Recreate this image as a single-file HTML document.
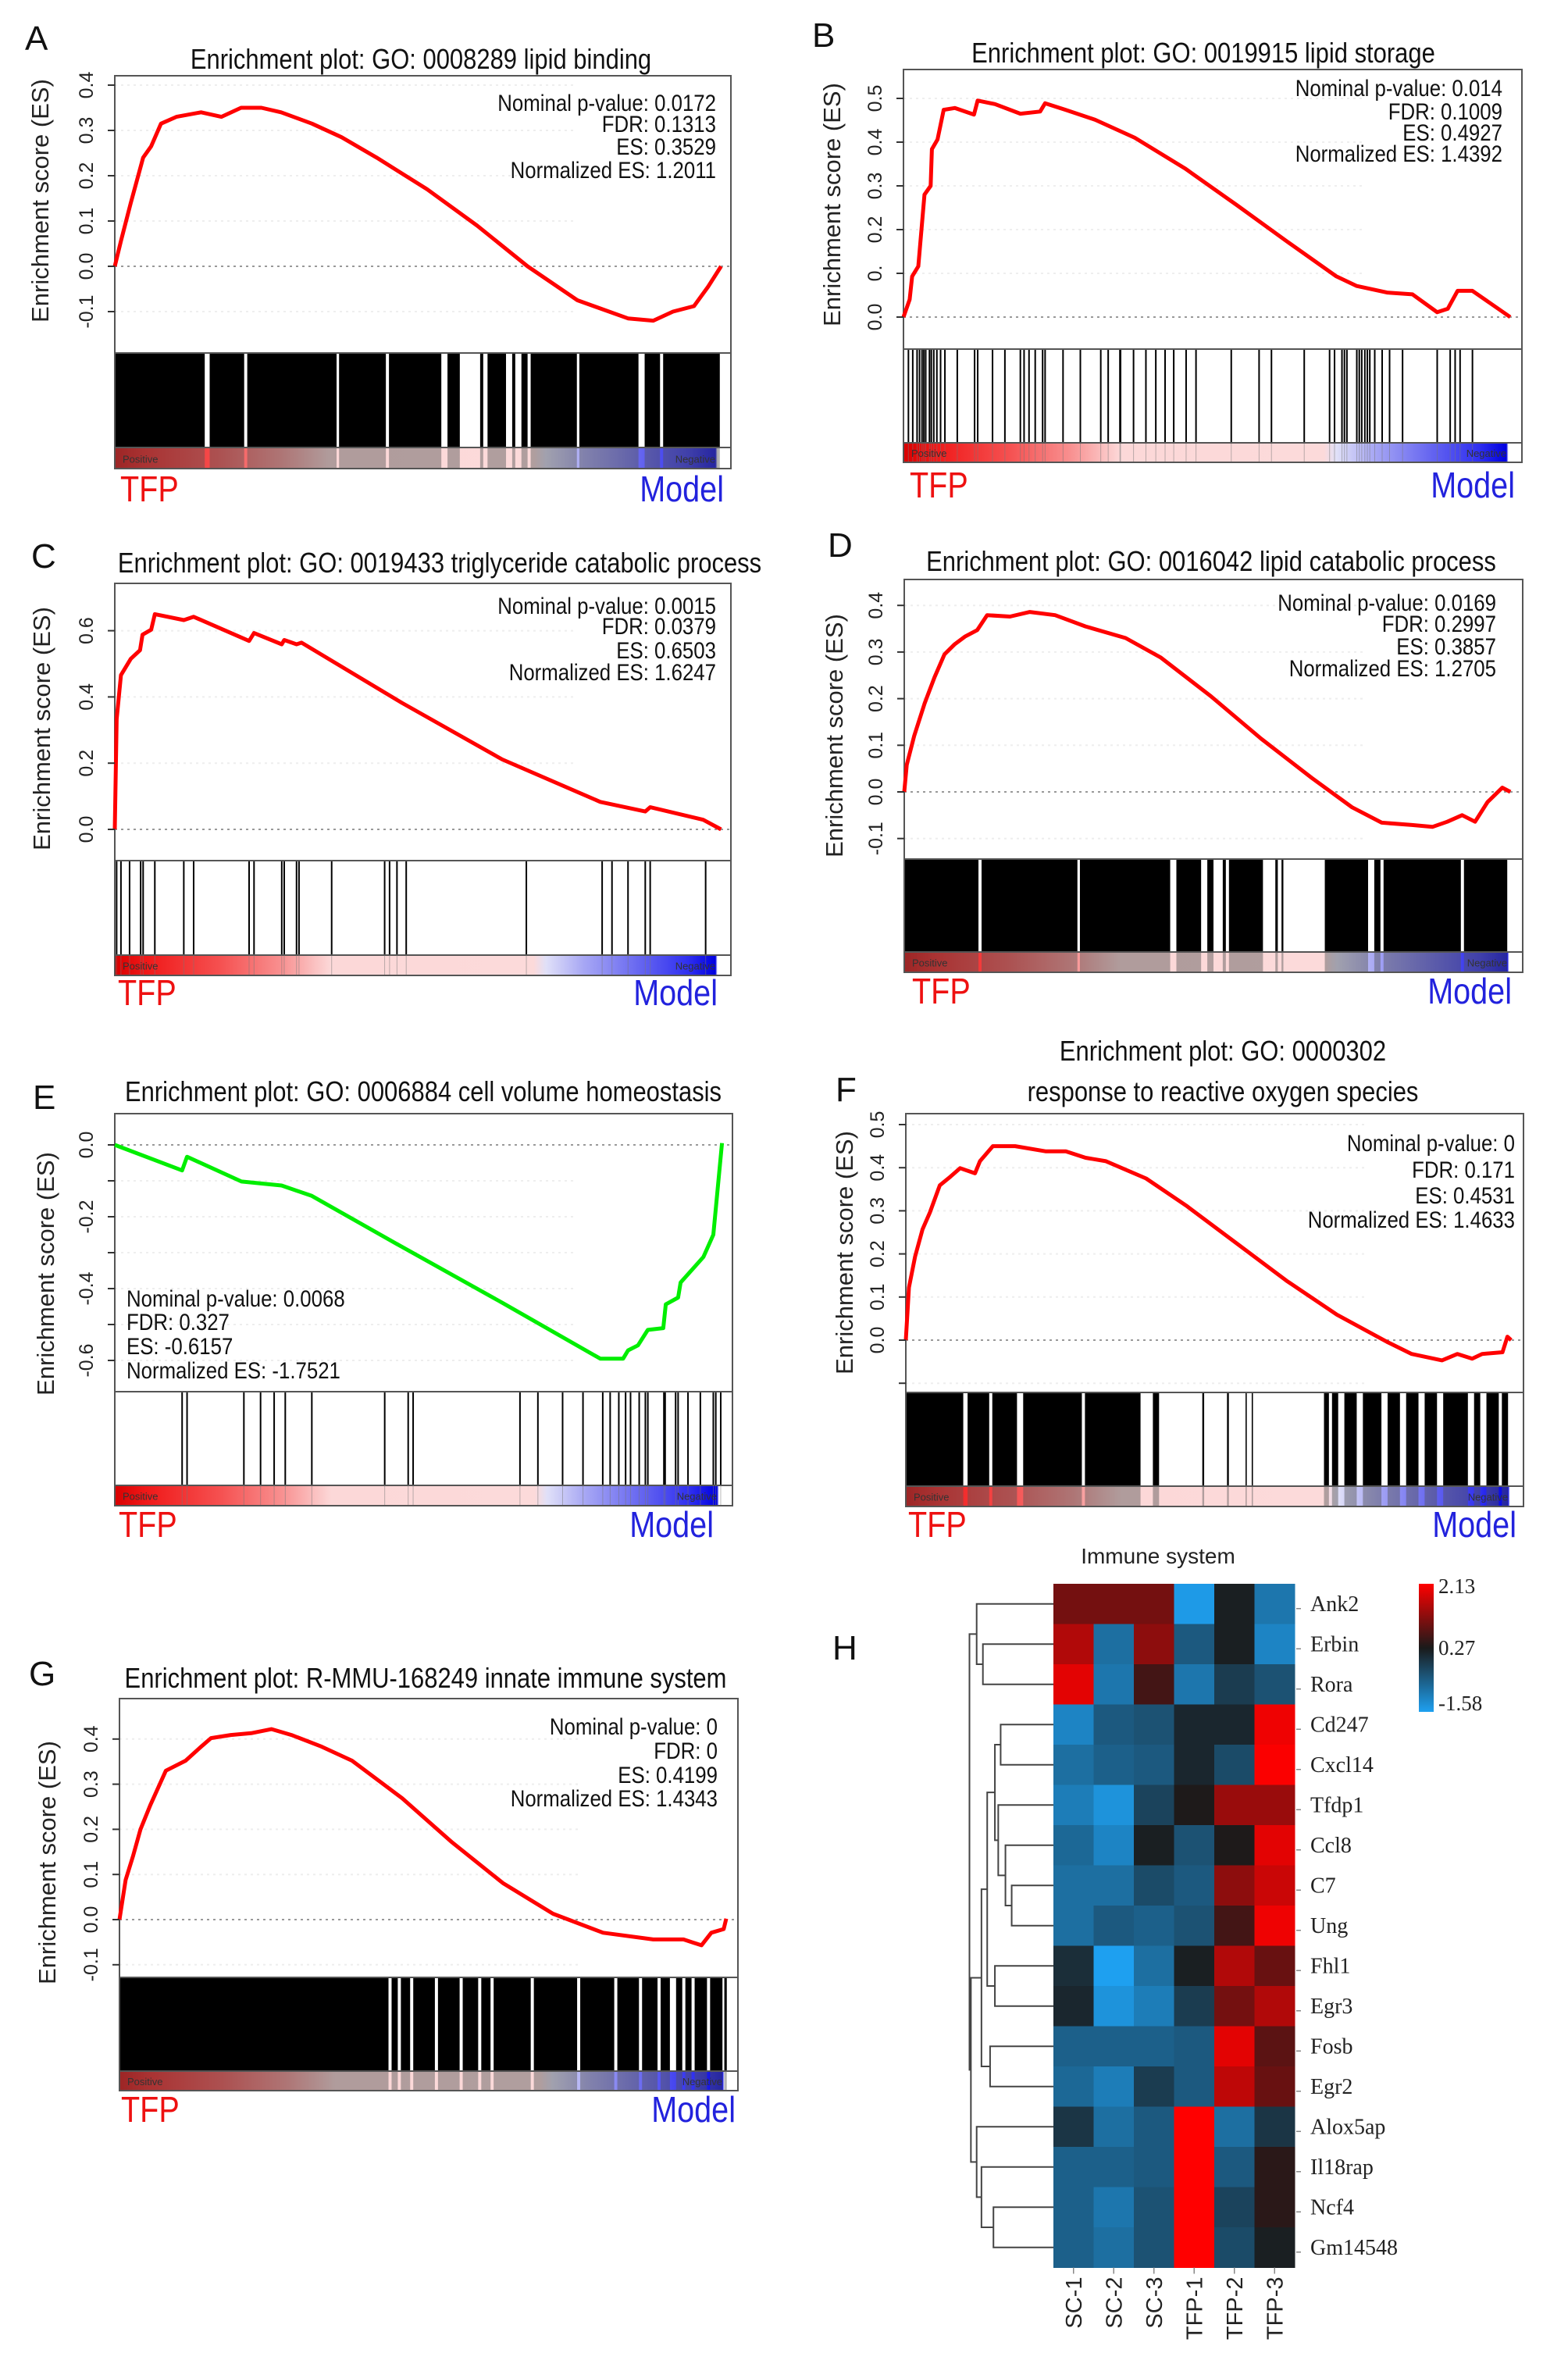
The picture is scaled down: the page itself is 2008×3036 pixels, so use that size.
<!DOCTYPE html>
<html><head><meta charset="utf-8"><style>
html,body{margin:0;padding:0;background:#fff;}
svg{display:block;font-family:"Liberation Sans",Arial,sans-serif;}
</style></head><body>
<svg id="fig" width="2008" height="3036" viewBox="0 0 2008 3036" xmlns="http://www.w3.org/2000/svg">
<defs>
<linearGradient id="bandGrad" x1="0" x2="1" y1="0" y2="0">
<stop offset="0" stop-color="#d80000"/><stop offset="0.05" stop-color="#f01818"/>
<stop offset="0.17" stop-color="#f55050"/><stop offset="0.27" stop-color="#f89090"/>
<stop offset="0.35" stop-color="#fcd8d8"/><stop offset="0.68" stop-color="#fcdada"/>
<stop offset="0.70" stop-color="#e0e0f8"/><stop offset="0.76" stop-color="#a8a8f4"/>
<stop offset="0.86" stop-color="#6060f0"/><stop offset="0.93" stop-color="#3030f0"/>
<stop offset="0.975" stop-color="#0000e0"/><stop offset="0.978" stop-color="#ffffff"/>
<stop offset="1" stop-color="#ffffff"/>
</linearGradient>
<linearGradient id="cbarGrad" x1="0" x2="0" y1="0" y2="1">
<stop offset="0" stop-color="#ff0000"/><stop offset="0.5" stop-color="#1a1a1a"/><stop offset="1" stop-color="#1ea0f0"/>
</linearGradient>
</defs>
</svg>
<script>
// ---------- ES curve data (rank % , ES value) ----------
const esA_rank=[0,1,2.6,4.6,5.9,7.5,10,14,17.3,20.5,23.8,27,32,36.8,42.5,50.7,58.8,67,75.1,83.3,87.4,90.6,94,96.3,98.4];
const esA_val=[0,0.056,0.14,0.24,0.265,0.315,0.33,0.34,0.33,0.35,0.35,0.34,0.315,0.285,0.24,0.17,0.09,0,-0.075,-0.115,-0.12,-0.1,-0.088,-0.045,0];
const esB_rank=[0,1,1.4,2.4,3.4,4.4,4.6,5.5,6.5,8.3,11.4,12,14.8,18.9,22.1,22.9,26.2,31,37.4,45.5,53.8,61.8,70,73.3,78.2,82.3,86.3,88,89.6,92,98.1];
const esB_val=[0,0.04,0.093,0.116,0.28,0.3,0.384,0.406,0.474,0.478,0.463,0.495,0.487,0.465,0.47,0.489,0.474,0.451,0.41,0.34,0.257,0.175,0.093,0.071,0.056,0.052,0.011,0.019,0.06,0.06,0];
const esC_rank=[0,0.3,1,2.6,4.1,4.5,5.9,6.5,11.2,12.8,21.8,22.6,27.1,27.5,29.5,30.3,46.6,62.9,78.8,86.1,86.9,95.5,98.4];
const esC_val=[0,0.333,0.466,0.515,0.541,0.588,0.603,0.65,0.632,0.642,0.569,0.593,0.559,0.572,0.559,0.564,0.382,0.211,0.083,0.054,0.067,0.029,0];
const esD_rank=[0,0.4,1.6,3.3,4.9,6.5,8.1,9.8,11.8,13.4,17.1,20.3,24.4,29.3,35.8,41.5,49.6,57.7,65.9,72.4,77.2,82.1,85.4,87.8,90.2,92.3,94.3,96.7,98];
const esD_val=[0,0.058,0.12,0.19,0.246,0.295,0.316,0.333,0.347,0.379,0.376,0.386,0.379,0.355,0.33,0.288,0.205,0.114,0.03,-0.033,-0.066,-0.071,-0.075,-0.064,-0.05,-0.064,-0.022,0.009,0];
const esE_rank=[0,10.9,11.7,20.5,27,31.9,46.5,62.8,78.6,82.3,83.1,84.7,86.3,88.8,89.2,91.2,91.6,95.3,96.9,98.3];
const esE_val=[0,-0.071,-0.033,-0.102,-0.113,-0.142,-0.284,-0.44,-0.595,-0.595,-0.572,-0.558,-0.515,-0.51,-0.444,-0.425,-0.383,-0.312,-0.25,0.005];
const esF_rank=[0,0.5,1.5,2.7,3.9,5.5,7.2,8.8,11.2,12,14.1,17.7,22.6,25.9,29.1,32.4,38.9,45.4,53.5,61.6,69.8,77.9,81.9,86.8,89.3,91.7,93.3,96.6,97.4,98.0];
const esF_val=[0,0.122,0.194,0.257,0.296,0.359,0.379,0.399,0.387,0.415,0.45,0.45,0.438,0.438,0.423,0.415,0.375,0.312,0.225,0.138,0.059,-0.004,-0.032,-0.047,-0.032,-0.043,-0.032,-0.028,0.008,0];
const esG_rank=[0,1,2.2,3.4,5.0,7.5,10.7,13.2,14.8,18,21.3,24.6,27.8,32.7,37.6,45.7,53.8,62,70.1,78.2,86.3,91.2,94.1,95.7,97.7,98.1];
const esG_val=[0,0.088,0.141,0.2,0.254,0.33,0.352,0.383,0.402,0.409,0.413,0.422,0.409,0.383,0.352,0.269,0.171,0.081,0.013,-0.029,-0.044,-0.044,-0.057,-0.029,-0.021,0.002];
// ---------- hit positions (rank %) ----------
const hitsB=[0.8,1.5,2.2,2.6,3.0,3.3,3.6,4.2,4.5,4.9,5.4,6.0,6.7,8.7,11.5,12.0,14.4,16.4,18.9,19.5,20.3,21.3,22.5,22.9,25.8,28.6,31.9,33.1,35.0,35.1,37.2,39.2,40.8,42.3,43.7,45.7,47.3,53.0,57.5,59.5,64.8,68.9,69.7,70.9,71.3,71.7,73.3,73.7,74.1,74.6,75.0,75.4,76.2,77.4,78.6,80.7,86.3,88.4,89.2,90.0,92.0];
const hitsC=[0.3,1.0,2.4,4.2,4.6,6.5,11.2,12.8,21.8,22.6,27.1,27.5,29.5,29.9,35.2,43.8,44.6,45.8,47.3,66.8,79.1,80.7,83.3,86.1,86.9,95.9];
const hitsE=[10.9,11.7,20.9,23.6,25.8,27.6,31.9,43.7,47.5,48.3,65.6,68.5,72.5,75.8,79.0,80.2,81.6,82.7,83.5,84.9,85.9,86.3,88.9,89.1,90.8,91.2,92.8,94.8,96.9,97.3,98.1];
// dense hit regions [start,end] in rank %
const runsA=[[0,14.6],[15.4,21],[21.5,36],[36.4,44],[44.5,53],[54,56],[59.3,59.8],[60.5,63.5],[64.5,65],[66,67],[67.5,75],[75.4,85],[86,88.5],[89,98.2]];
const runsD=[[0,12],[12.5,28],[28.4,43],[44,48],[49,50],[51.5,52],[52.5,58],[60,60.4],[61,61.3],[68,75],[76,77],[77.5,90],[90.5,97.5]];
const runsF=[[0,9.3],[10,13.5],[14,18],[19,28.5],[29,38],[40,41],[48,48.3],[52,52.3],[55,55.2],[56,56.2],[67.7,68.5],[69,70],[71,73],[74,77],[78,80],[81,83],[84,86],[87,91],[92,93],[94,96],[96.5,97.5]];
const runsG=[[0,43.5],[44,45],[45.5,47],[47.5,51],[51.5,55],[55.5,58],[58.5,60],[60.5,66.5],[67,74],[74.5,80],[80.5,84],[84.5,87],[87.5,89],[90,91],[91.5,92.5],[93,95],[95.5,97.5],[97.8,98.2]];
// ---------- y tick values & labels ----------
const ticksA=[-0.1,0,0.1,0.2,0.3,0.4]; const tickLabA=["-0.1","0.0","0.1","0.2","0.3","0.4"];
const ticksB=[0,0.1,0.2,0.3,0.4,0.5]; const tickLabB=["0.0","0.","0.2","0.3","0.4","0.5"];
const ticksC=[0,0.2,0.4,0.6]; const tickLabC=["0.0","0.2","0.4","0.6"];
const ticksD=[-0.1,0,0.1,0.2,0.3,0.4]; const tickLabD=["-0.1","0.0","0.1","0.2","0.3","0.4"];
const ticksE=[0,-0.1,-0.2,-0.3,-0.4,-0.5,-0.6]; const tickLabE=["0.0","","-0.2","","-0.4","","-0.6"];
const ticksF=[-0.1,0,0.1,0.2,0.3,0.4,0.5]; const tickLabF=["","0.0","0.1","0.2","0.3","0.4","0.5"];
const ticksG=[-0.1,0,0.1,0.2,0.3,0.4]; const tickLabG=["-0.1","0.0","0.1","0.2","0.3","0.4"];
// ---------- heatmap data ----------
const genes=["Ank2","Erbin","Rora","Cd247","Cxcl14","Tfdp1","Ccl8","C7","Ung","Fhl1","Egr3","Fosb","Egr2","Alox5ap","Il18rap","Ncf4","Gm14548"];
const samples=["SC-1","SC-2","SC-3","TFP-1","TFP-2","TFP-3"];
const heat=[
[1.0,1.0,1.0,-1.5,0.2,-1.0],
[1.5,-0.9,1.2,-0.6,0.2,-1.2],
[1.9,-1.0,0.6,-1.0,-0.2,-0.5],
[-1.2,-0.6,-0.5,0.1,0.1,2.0],
[-0.9,-0.7,-0.6,0.1,-0.4,2.1],
[-1.1,-1.4,-0.3,0.3,1.3,1.3],
[-0.8,-1.2,0.2,-0.5,0.3,1.9],
[-0.9,-0.9,-0.4,-0.6,1.2,1.7],
[-0.9,-0.6,-0.7,-0.5,0.6,2.0],
[0.0,-1.58,-0.9,0.2,1.5,0.9],
[0.1,-1.4,-1.1,-0.2,1.0,1.5],
[-0.7,-0.7,-0.7,-0.6,1.9,0.8],
[-0.8,-1.1,-0.2,-0.6,1.6,0.9],
[-0.1,-0.9,-0.6,2.13,-0.9,-0.1],
[-0.7,-0.7,-0.6,2.13,-0.6,0.4],
[-0.7,-1.0,-0.5,2.13,-0.3,0.4],
[-0.7,-0.9,-0.5,2.13,-0.4,0.2]];
const cbarTicks=[2.13,0.27,-1.58];
// dendrogram merges: [childA, childB, height]; leaves 0..16, new nodes 17..
const merges=[[1,2,147],[0,17,160],[3,4,110],[7,8,87],[6,20,100],[5,21,115],[19,22,122],[9,10,122],[23,24,138],[11,12,132],[25,26,150],[15,16,125],[14,28,150],[13,29,160],[27,30,172],[18,31,175]];

const NS="http://www.w3.org/2000/svg";
const svg=document.getElementById('fig');
function el(tag,attrs,parent){const e=document.createElementNS(NS,tag);for(const k in attrs)e.setAttribute(k,attrs[k]);(parent||svg).appendChild(e);return e;}
function txt(str,attrs,parent){const e=el('text',attrs,parent);e.textContent=str;return e;}

const panels=[
{id:'a',letter:'A',L:147,R:936,T:97,PB:452,BT:573,BB:600,y0:341,ppu:580,rank:esA_rank,val:esA_val,runs:runsA,ticks:ticksA,tl:tickLabA,color:'#ff0000',
 title:['Enrichment plot: GO: 0008289 lipid binding'],tcx:539,tby:[88],lx:32,lby:64,
 stats:['Nominal p-value: 0.0172','FDR: 0.1313','ES: 0.3529','Normalized ES: 1.2011'],sx:917,sby:[142,169,198,228],anchor:'end',ylcx:51,ylcy:257,tfpx:154,tfpb:642,modr:927},
{id:'b',letter:'B',L:1157,R:1949,T:89,PB:447,BT:567,BB:592,y0:406,ppu:560,rank:esB_rank,val:esB_val,hits:hitsB,ticks:ticksB,tl:tickLabB,color:'#ff0000',
 title:['Enrichment plot: GO: 0019915 lipid storage'],tcx:1541,tby:[80],lx:1040,lby:60,
 stats:['Nominal p-value: 0.014','FDR: 0.1009','ES: 0.4927','Normalized ES: 1.4392'],sx:1924,sby:[123,153,180,207],anchor:'end',ylcx:1065,ylcy:262,tfpx:1165,tfpb:637,modr:1940},
{id:'c',letter:'C',L:147,R:936,T:747,PB:1102,BT:1223,BB:1249,y0:1062,ppu:424,rank:esC_rank,val:esC_val,hits:hitsC,ticks:ticksC,tl:tickLabC,color:'#ff0000',
 title:['Enrichment plot: GO: 0019433 triglyceride catabolic process'],tcx:563,tby:[733],lx:40,lby:727,
 stats:['Nominal p-value: 0.0015','FDR: 0.0379','ES: 0.6503','Normalized ES: 1.6247'],sx:917,sby:[786,812,843,871],anchor:'end',ylcx:53,ylcy:933,tfpx:151,tfpb:1287,modr:919},
{id:'d',letter:'D',L:1158,R:1950,T:742,PB:1100,BT:1219,BB:1245,y0:1014,ppu:597,rank:esD_rank,val:esD_val,runs:runsD,ticks:ticksD,tl:tickLabD,color:'#ff0000',
 title:['Enrichment plot: GO: 0016042 lipid catabolic process'],tcx:1551,tby:[731],lx:1060,lby:713,
 stats:['Nominal p-value: 0.0169','FDR: 0.2997','ES: 0.3857','Normalized ES: 1.2705'],sx:1916,sby:[782,809,838,866],anchor:'end',ylcx:1068,ylcy:942,tfpx:1168,tfpb:1285,modr:1936},
{id:'e',letter:'E',L:147,R:938,T:1426,PB:1782,BT:1902,BB:1928,y0:1466,ppu:460,rank:esE_rank,val:esE_val,hits:hitsE,ticks:ticksE,tl:tickLabE,color:'#00ee00',
 title:['Enrichment plot: GO: 0006884 cell volume homeostasis'],tcx:542,tby:[1410],lx:42,lby:1420,
 stats:['Nominal p-value: 0.0068','FDR: 0.327','ES: -0.6157','Normalized ES: -1.7521'],sx:162,sby:[1673,1703,1734,1765],anchor:'start',ylcx:58,ylcy:1631,tfpx:152,tfpb:1968,modr:914},
{id:'f',letter:'F',L:1160,R:1951,T:1426,PB:1783,BT:1903,BB:1929,y0:1716,ppu:552,rank:esF_rank,val:esF_val,runs:runsF,ticks:ticksF,tl:tickLabF,color:'#ff0000',
 title:['Enrichment plot: GO: 0000302','response to reactive oxygen species'],tcx:1566,tby:[1358,1410],lx:1070,lby:1410,
 stats:['Nominal p-value: 0','FDR: 0.171','ES: 0.4531','Normalized ES: 1.4633'],sx:1940,sby:[1474,1508,1541,1572],anchor:'end',ylcx:1081,ylcy:1604,tfpx:1163,tfpb:1968,modr:1942},
{id:'g',letter:'G',L:153,R:945,T:2175,PB:2532,BT:2652,BB:2677,y0:2458,ppu:578,rank:esG_rank,val:esG_val,runs:runsG,ticks:ticksG,tl:tickLabG,color:'#ff0000',
 title:['Enrichment plot: R-MMU-168249 innate immune system'],tcx:545,tby:[2161],lx:37,lby:2158,
 stats:['Nominal p-value: 0','FDR: 0','ES: 0.4199','Normalized ES: 1.4343'],sx:919,sby:[2221,2252,2283,2313],anchor:'end',ylcx:60,ylcy:2385,tfpx:155,tfpb:2717,modr:942}
];

const condTexts=[];
panels.forEach(p=>{
  const g=el('g',{});
  
  
  const xr=r=>p.L+r/100*(p.R-p.L);
  const yv=v=>p.y0-v*p.ppu;
  const pl=txt(p.letter,{x:p.lx,y:p.lby,'font-size':44,fill:'#111'},g);
  
  
  p.title.forEach((t,i)=>{const e=txt(t,{x:p.tcx,y:p.tby[i],'font-size':36,'text-anchor':'middle',fill:'#111'},g);
    
    condTexts.push(e);});
  p.ticks.forEach(v=>{ if(v!==0){const gl=el('line',{x1:p.L,x2:p.R-200,y1:yv(v),y2:yv(v),stroke:'#eee','stroke-width':2,'stroke-dasharray':'3 5'},g);
    
    }});
  const zl=el('line',{x1:p.L,x2:p.R,y1:yv(0),y2:yv(0),stroke:'#999','stroke-width':2,'stroke-dasharray':'3 5'},g);
  
  
  const hg=el('g',{},g);
  
  
  const band=el('rect',{x:p.L,y:p.BT,width:p.R-p.L,height:p.BB-p.BT,fill:'url(#bandGrad)'},g);
  
  
  if(p.runs){p.runs.forEach(rn=>{
      const r=el('rect',{x:xr(rn[0]),y:p.PB,width:xr(rn[1])-xr(rn[0]),height:p.BT-p.PB,fill:'#000'},hg);
      
      
      const r2=el('rect',{x:xr(rn[0]),y:p.BT,width:xr(rn[1])-xr(rn[0]),height:p.BB-p.BT,fill:'#555',opacity:0.45},g);
      
      });}
  if(p.hits){p.hits.forEach(h=>{
      const l=el('line',{x1:xr(h),x2:xr(h),y1:p.PB,y2:p.BT,stroke:'#000','stroke-width':2},hg);
      
      
      const l2=el('line',{x1:xr(h),x2:xr(h),y1:p.BT,y2:p.BB,stroke:'#777','stroke-width':1,opacity:0.5},g);
      
      });}
  const pos=txt('Positive',{x:p.L+10,y:p.BT+(p.BB-p.BT)*0.72,'font-size':13,fill:'#333'},g);
  
  
  const neg=txt('Negative',{x:p.R-20,y:p.BT+(p.BB-p.BT)*0.72,'font-size':13,fill:'#333','text-anchor':'end'},g);
  
  
  [[p.T,p.PB],[p.PB,p.BT],[p.BT,p.BB]].forEach(f=>{const fr=el('rect',{x:p.L,y:f[0],width:p.R-p.L,height:f[1]-f[0],fill:'none',stroke:'#555','stroke-width':2},g);
    
    });
  const d=p.rank.map((r,i)=>(i?'L':'M')+xr(r).toFixed(1)+','+yv(p.val[i]).toFixed(1)).join(' ');
  const c=el('path',{d:d,fill:'none',stroke:p.color,'stroke-width':5,'stroke-linejoin':'round'},g);
  
  
  p.ticks.forEach((v,i)=>{
    const tk=el('line',{x1:p.L-9,x2:p.L,y1:yv(v),y2:yv(v),stroke:'#333','stroke-width':2},g);
    
    
    if(p.tl[i]){const t=txt(p.tl[i],{x:0,y:0,'font-size':25,'text-anchor':'middle',fill:'#222',transform:`translate(${p.L-28},${yv(v)}) rotate(-90)`},g);
      
      }
  });
  const yl=txt('Enrichment score (ES)',{x:0,y:0,'font-size':31,'text-anchor':'middle',fill:'#222',transform:`translate(${p.ylcx+11},${p.ylcy}) rotate(-90)`},g);
  
  
  p.stats.forEach((s,i)=>{const t=txt(s,{x:p.sx,y:p.sby[i],'font-size':30,'text-anchor':p.anchor,fill:'#111'},g);
    
    condTexts.push(t);});
  const tf=txt('TFP',{x:p.tfpx,y:p.tfpb,'font-size':46,fill:'#ee1111'},g);
  
  condTexts.push(tf);
  const md=txt('Model',{x:p.modr,y:p.tfpb,'font-size':46,fill:'#2222dd','text-anchor':'end'},g);
  
  condTexts.push(md);
});

// ---------- Heatmap ----------
const HL=1349,HT=2028,CW=51.5,RH=51.5,vmin=-1.58,vmid=0.27,vmax=2.13;
function colorOf(v){
  const blk=[26,26,26],red=[255,0,0],blu=[30,160,240];
  let t,c;
  if(v>=vmid){t=Math.min(1,(v-vmid)/(vmax-vmid));c=red;}else{t=Math.min(1,(vmid-v)/(vmid-vmin));c=blu;}
  return 'rgb('+blk.map((b,i)=>Math.round(b+(c[i]-b)*t)).join(',')+')';
}
const hg=el('g',{});


const hLetter=txt('H',{x:1066,y:2125,'font-size':44,fill:'#111'},hg);


const ht=txt('Immune system',{x:1483,y:2002,'font-size':28,'text-anchor':'middle',fill:'#222'},hg);


heat.forEach((row,r)=>row.forEach((v,c)=>{
  const cell=el('rect',{x:HL+c*CW,y:HT+r*RH,width:CW+0.5,height:RH+0.5,fill:colorOf(v)},hg);
  
  
}));
genes.forEach((gname,r)=>{
  const y=HT+(r+0.5)*RH;
  const tk=el('line',{x1:HL+6*CW+2,x2:HL+6*CW+8,y1:y+6,y2:y+6,stroke:'#888','stroke-width':1.5},hg);
  
  
  const t=txt(gname,{x:1678,y:y+9,'font-size':28,fill:'#222','font-family':'"Liberation Serif",serif'},hg);
  
  
});
samples.forEach((s,c)=>{
  const x=HL+(c+0.5)*CW;
  const tk=el('line',{x1:x,x2:x,y1:HT+17*RH,y2:HT+17*RH+8,stroke:'#888','stroke-width':1.5},hg);
  
  
  const t=txt(s,{x:0,y:0,'font-size':29,'text-anchor':'end',fill:'#222',transform:`translate(${x+10},${HT+17*RH+12}) rotate(-90)`},hg);
  
  
});
const cb=el('rect',{x:1817,y:2028,width:19,height:164,fill:'url(#cbarGrad)'},hg);


cbarTicks.forEach(v=>{
  const y=2028+(vmax-v)/(vmax-vmin)*164;
  const t=txt(v.toFixed(2),{x:1842,y:Math.min(2190,Math.max(2040,y+9)),'font-size':27,fill:'#222','font-family':'"Liberation Serif",serif'},hg);
  
  
});
const nodeX={},nodeY={};
genes.forEach((g,i)=>{nodeX[i]=HL;nodeY[i]=HT+(i+0.5)*RH;});
const dg=el('g',{},hg);


merges.forEach((m,k)=>{
  const id=17+k, x=HL-m[2]/1.628;
  const a=m[0],b=m[1];
  const d=`M${nodeX[a]},${nodeY[a]} L${x},${nodeY[a]} L${x},${nodeY[b]} L${nodeX[b]},${nodeY[b]}`;
  const p=el('path',{d:d,fill:'none',stroke:'#444','stroke-width':2},dg);
  
  
  nodeX[id]=x;nodeY[id]=(nodeY[a]+nodeY[b])/2;
});
condTexts.forEach(t=>{const w=t.getComputedTextLength();t.setAttribute('textLength',(w*0.86).toFixed(1));t.setAttribute('lengthAdjust','spacingAndGlyphs');});
</script>
</body></html>
